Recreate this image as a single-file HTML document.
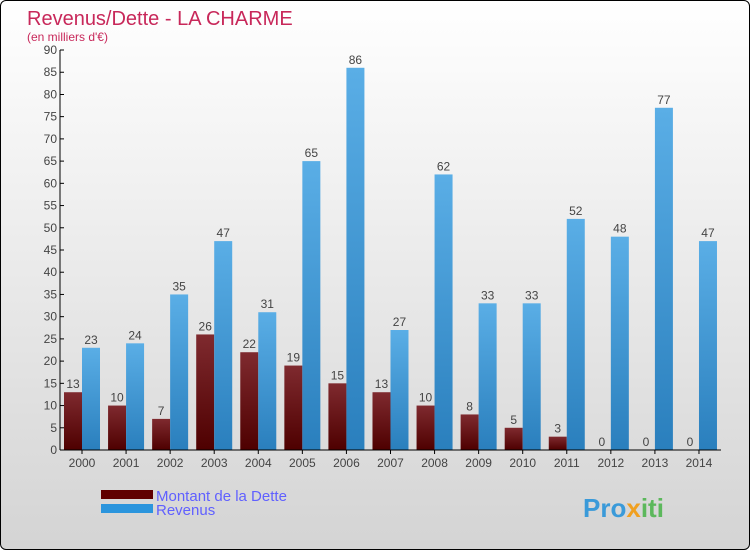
<!DOCTYPE html>
<html><head><meta charset="utf-8"><style>
body{margin:0}
#c{position:relative;width:748px;height:548px;border:1px solid #000;border-radius:6px;overflow:hidden;background:linear-gradient(#ffffff,#d4d4d4);font-family:"Liberation Sans",sans-serif}
svg text{font-family:"Liberation Sans",sans-serif}
</style></head><body>
<div id="c">
<svg id="s" width="748" height="548">
<defs>
<linearGradient id="gd" x1="0" y1="0" x2="0" y2="1"><stop offset="0" stop-color="#7f2a2f"/><stop offset="1" stop-color="#4e0000"/></linearGradient>
<linearGradient id="gr" x1="0" y1="0" x2="0" y2="1"><stop offset="0" stop-color="#5aaee6"/><stop offset="1" stop-color="#2a7fbd"/></linearGradient>
</defs>
<text x="26" y="24" font-size="20" fill="#c8285a">Revenus/Dette - LA CHARME</text>
<text x="26" y="40" font-size="12" fill="#c8285a">(en milliers d'€)</text>
<g id="plot"></g>
<rect x="100" y="489" width="52" height="9" fill="#600000"/>
<rect x="100" y="503" width="52" height="9" fill="#2b95dd"/>
<text x="155" y="500" font-size="15" fill="#6060ff">Montant de la Dette</text>
<text x="155" y="514" font-size="15" fill="#6060ff">Revenus</text>
<text x="582" y="516" font-size="26" font-weight="bold" fill="#3a9ad9">Pro<tspan fill="#f0a020">x</tspan><tspan fill="#5cb85c">iti</tspan></text>
</svg>
</div>
<script>
const years=["2000","2001","2002","2003","2004","2005","2006","2007","2008","2009","2010","2011","2012","2013","2014"];
const dette=[13,10,7,26,22,19,15,13,10,8,5,3,0,0,0];
const revenus=[23,24,35,47,31,65,86,27,62,33,33,52,48,77,47];
const yTicks=[0,5,10,15,20,25,30,35,40,45,50,55,60,65,70,75,80,85,90];
const NS="http://www.w3.org/2000/svg";
const g=document.getElementById('plot');
const y0=449,yMax=90,ph=400,axX=59,x0=81,step=44.07,bw=18;
const Y=v=>y0-v/yMax*ph;
const X=i=>x0+i*step;
function mk(t,a){const e=document.createElementNS(NS,t);for(const k in a)e.setAttribute(k,a[k]);g.appendChild(e);return e;}
yTicks.forEach(v=>{
 const l=mk('line',{x1:axX,x2:axX+4,y1:Y(v),y2:Y(v),stroke:'#000'});
 
 
 const t=mk('text',{x:axX-3,y:Y(v)+4,'font-size':12,fill:'#444','text-anchor':'end'});t.textContent=v;
 
 
});
years.forEach((yr,i)=>{
 const cx=X(i);
 const hd=Math.max(Y(0)-Y(dette[i]),0);
 const b1=mk('rect',{x:cx-bw,y:Y(dette[i]),width:bw,height:hd,fill:'url(#gd)'});
 
 
 const b2=mk('rect',{x:cx,y:Y(revenus[i]),width:bw,height:Y(0)-Y(revenus[i]),fill:'url(#gr)'});
 
 
 const t1=mk('text',{x:cx-bw/2,y:Y(dette[i])-4,'font-size':12,fill:'#444','text-anchor':'middle'});t1.textContent=dette[i];
 
 
 const t2=mk('text',{x:cx+bw/2,y:Y(revenus[i])-4,'font-size':12,fill:'#444','text-anchor':'middle'});t2.textContent=revenus[i];
 
 
 const tk=mk('line',{x1:cx,x2:cx,y1:y0,y2:y0+4,stroke:'#000'});
 
 
 const tl=mk('text',{x:cx,y:466,'font-size':12,fill:'#444','text-anchor':'middle'});tl.textContent=yr;
 
 
});
const ya=mk('line',{x1:axX,x2:axX,y1:Y(90),y2:y0,stroke:'#000'});


const xa=mk('line',{x1:axX,x2:720,y1:y0,y2:y0,stroke:'#000'});


</script>
</body></html>
